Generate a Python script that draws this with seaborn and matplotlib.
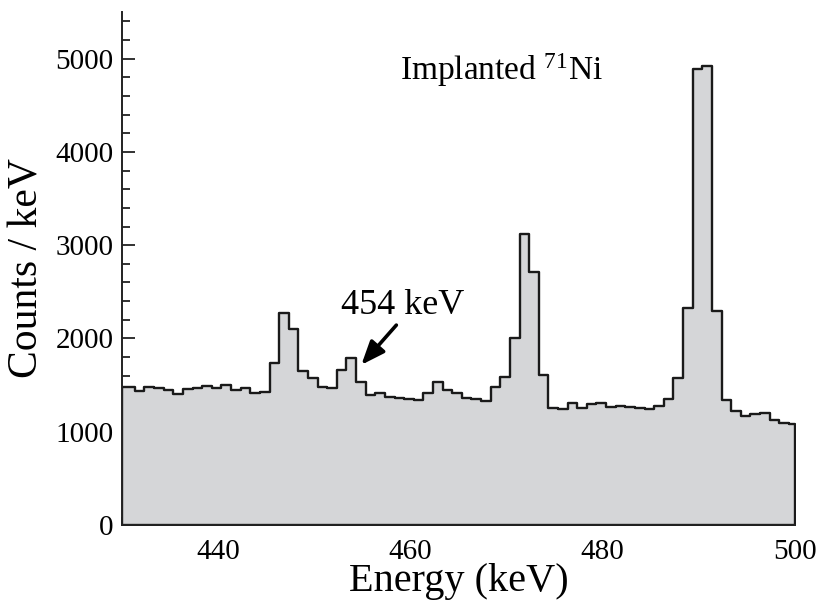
import numpy as np
import pandas as pd
import matplotlib
matplotlib.use("Agg")
import matplotlib.pyplot as plt
from matplotlib.ticker import MultipleLocator
import seaborn as sns

# ---- data (counts per 1-keV bin) ----
counts = [1484, 1441, 1477, 1470, 1448, 1405, 1463, 1470, 1491, 1470,
          1506, 1448, 1465, 1413, 1427, 1735, 2278, 2100, 1656, 1574,
          1484, 1466, 1665, 1795, 1538, 1390, 1420, 1368, 1360, 1350,
          1344, 1420, 1538, 1449, 1410, 1366, 1348, 1325, 1484, 1583,
          2010, 3122, 2713, 1612, 1255, 1243, 1308, 1255, 1300, 1308,
          1270, 1277, 1267, 1259, 1239, 1278, 1348, 1574, 2325, 4889,
          4925, 2289, 1341, 1226, 1170, 1191, 1205, 1130, 1095, 1080]
first_edge = 430.0
inner_edges = [431.35 + k for k in range(69)]
last_edge = 500.0
edges = [first_edge] + inner_edges + [last_edge]
centers = [(a + b) / 2 for a, b in zip(edges[:-1], edges[1:])]
x_ticks_major = [440, 460, 480, 500]
y_ticks_major = [0, 1000, 2000, 3000, 4000, 5000]

df = pd.DataFrame({"energy": centers, "counts": counts})

sns.set_theme(style="ticks")
plt.rcParams["font.family"] = ["Liberation Serif", "DejaVu Serif"]
plt.rcParams["mathtext.fontset"] = "custom"
plt.rcParams["mathtext.rm"] = "Liberation Serif"
plt.rcParams["mathtext.it"] = "Liberation Serif:italic"
plt.rcParams["text.color"] = "black"
plt.rcParams["axes.labelcolor"] = "black"

fig = plt.figure(figsize=(8.18, 6.01), dpi=100)
ax = fig.add_axes([0.149, 0.1265, 0.823, 0.8535])

sns.histplot(data=df, x="energy", weights="counts", bins=edges,
             element="step", fill=True, ax=ax,
             facecolor="#d5d6d8", edgecolor="#1a1a1a", linewidth=1.7, alpha=1.0)

ax.set_xlim(430, 500)
ax.set_ylim(0, 5500)
ax.set_xticks(x_ticks_major)
ax.set_yticks(y_ticks_major)
ax.xaxis.set_minor_locator(MultipleLocator(5))
ax.yaxis.set_minor_locator(MultipleLocator(200))
ax.tick_params(which="major", direction="in", length=9, width=1.3,
               labelsize=21, color="#222222", labelcolor="black")
ax.tick_params(which="minor", direction="in", length=6, width=1.3, color="#222222")
ax.tick_params(axis="x", pad=10)
ax.tick_params(axis="y", pad=6)

for s in ["top", "right"]:
    ax.spines[s].set_visible(False)
for s in ["left", "bottom"]:
    ax.spines[s].set_linewidth(1.4)
    ax.spines[s].set_color("#222222")

ax.set_xlabel("Energy (keV)", fontsize=29, color="black")
ax.set_ylabel("Counts / keV", fontsize=30, color="black")
ax.xaxis.set_label_coords(0.5, -0.074)
ax.yaxis.set_label_coords(-0.112, 0.5)

ax.text(469.5, 4775, r"Implanted $^{71}$Ni", fontsize=24, ha="center",
        va="baseline", color="black")
ax.annotate("454 keV", xy=(454.9, 1717), xytext=(459.2, 2264),
            fontsize=26, ha="center", va="baseline", color="black",
            arrowprops=dict(arrowstyle="-|>,head_length=0.55,head_width=0.22",
                            color="black", lw=2.6, shrinkA=0, shrinkB=0,
                            relpos=(0.46, -0.05)))

fig.savefig("out.png", dpi=100)
